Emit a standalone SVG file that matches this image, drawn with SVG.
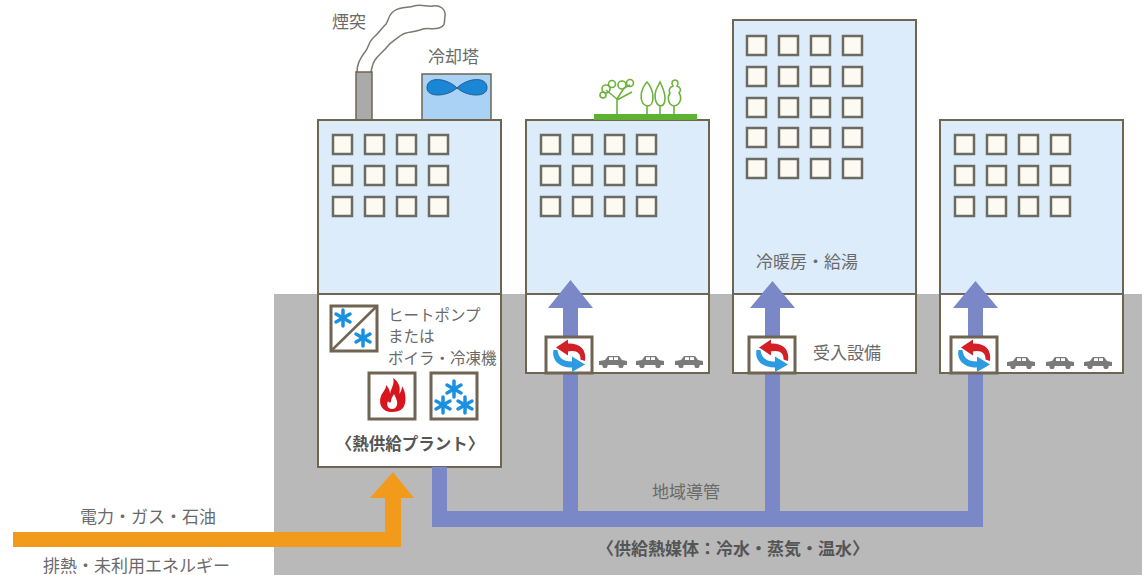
<svg xmlns="http://www.w3.org/2000/svg" xmlns:xlink="http://www.w3.org/1999/xlink" width="1142" height="575" viewBox="0 0 1142 575">
  <style>
    .lbl { font-family: "Noto Sans CJK JP", "Noto Sans", sans-serif; fill: #6a6a6a; font-size: 17px; }
    .lblb { font-family: "Noto Sans CJK JP", "Noto Sans", sans-serif; fill: #555; font-size: 17px; font-weight: bold; }
    .upper { fill: #dcecfb; stroke: #6f6552; stroke-width: 2; }
    .lower { fill: #ffffff; stroke: #6f6552; stroke-width: 2; }
    .win { fill: #fdfaf2; stroke: #6b6b63; stroke-width: 2.5; }
    .box { fill: #ffffff; stroke: #6f6552; stroke-width: 3; }
    .pipe { fill: #7b88c8; }
    .car { fill: #7a7a7a; }
    .ast { stroke: #1a90e0; stroke-width: 3.5; stroke-linecap: round; fill: none; }
  </style>
  <defs>
    <!-- window row of four -->
    <g id="winrow">
      <rect class="win" x="0" y="0" width="19" height="19"/>
      <rect class="win" x="32" y="0" width="19" height="19"/>
      <rect class="win" x="64" y="0" width="19" height="19"/>
      <rect class="win" x="96" y="0" width="19" height="19"/>
    </g>
    <!-- six-spoke asterisk -->
    <g id="ast">
      <line class="ast" x1="0" y1="-8" x2="0" y2="8"/>
      <line class="ast" x1="-7" y1="-4" x2="7" y2="4"/>
      <line class="ast" x1="-7" y1="4" x2="7" y2="-4"/>
    </g>
    <!-- small car -->
    <g id="car">
      <path class="car" d="M0,5 L6,4 L9,0 L20,0 L23,4 L28,5 L28,9 L0,9 Z"/>
      <rect x="10" y="1.2" width="4" height="2.8" fill="#fff"/>
      <rect x="15" y="1.2" width="4" height="2.8" fill="#fff"/>
      <circle class="car" cx="6" cy="9.5" r="2.6"/>
      <circle class="car" cx="22" cy="9.5" r="2.6"/>
    </g>
    <!-- heat exchanger unit -->
    <g id="exch">
      <rect class="box" x="0" y="0" width="46" height="36"/>
      <path fill="#d21f28" d="M21,6.5 C33,5.5 41,12 39,24 L34.5,22.5 C35,15.5 30,12.5 21,14.5 Z"/>
      <path fill="#d21f28" d="M10,10.5 L22,2.5 L22,18.5 Z"/>
      <path fill="#2c9be2" d="M7.5,13 C5.5,23 13,31 27,30.5 L27,24.5 C18,25 12.5,21.5 11.5,13 Z"/>
      <path fill="#2c9be2" d="M39,27.5 L26,19.5 L26,35 Z"/>
    </g>
  </defs>

  <rect x="0" y="0" width="1142" height="575" fill="#ffffff"/>

  <!-- underground -->
  <rect x="274" y="294" width="868" height="281" fill="#b9b9b9"/>

  <!-- heat source plant -->
  <g id="plant">
    <!-- smoke plume -->
    <path d="M357,72 C357,64 360,58 365,52 C369,47 368,43 373,38 C379,33 381,29 386,24 C389,20 388,15 394,11 C401,6 408,8 414,6 C421,4 427,7 433,6 C440,5 446,9 445,16 C444,22 446,26 439,28 C432,30 427,27 420,30 C412,33 406,31 400,36 C394,41 392,41 387,47 C382,53 378,55 375,60 C372,64 372,68 371,72" fill="#ffffff" stroke="#7a7a72" stroke-width="1.5"/>
    <rect x="356" y="72" width="16" height="48" fill="#aaaaaa" stroke="#6f6552" stroke-width="1.5"/>
    <rect x="422" y="74" width="69" height="46" fill="#a9d2f5" stroke="#6f6552" stroke-width="1.5"/>
    <path d="M457,88 C447,78 428,76 427,87 C426,98 447,97 457,88 C467,97 488,98 487,87 C486,76 467,78 457,88 Z" fill="#1a86d6" stroke="#2a5c8a" stroke-width="1"/>
    <rect class="upper" x="318" y="120" width="183" height="174"/>
    <rect class="lower" x="318" y="294" width="183" height="173"/>
    <use xlink:href="#winrow" x="333" y="135"/>
    <use xlink:href="#winrow" x="333" y="166"/>
    <use xlink:href="#winrow" x="333" y="197"/>
    <!-- heat pump / boiler / chiller -->
    <rect class="box" x="331" y="306" width="46" height="45"/>
    <line x1="331" y1="351" x2="377" y2="306" stroke="#6f6552" stroke-width="2.5"/>
    <use xlink:href="#ast" x="343" y="318"/>
    <use xlink:href="#ast" x="363" y="338"/>
    <text class="lbl" x="388" y="321" style="font-size:15.5px">ヒートポンプ</text>
    <text class="lbl" x="388" y="342" style="font-size:15.5px">または</text>
    <text class="lbl" x="388" y="364" style="font-size:15.5px">ボイラ・冷凍機</text>
    <rect class="box" x="369" y="373" width="46" height="46"/>
    <path fill="#d8151c" d="M392,412 C382,412 378,404 381,396 C383,391 386,390 386,385 C389,388 390,391 390,394 C391,388 395,384 393,378 C399,382 401,388 399,394 C401,392 402,389 402,386 C406,392 407,403 403,408 C400,411 396,412 392,412 Z"/>
    <path fill="#ffffff" d="M392,409 C388,409 386,405 388,401 C389,403 391,403 391,401 C391,398 393,396 394,394 C396,398 398,402 397,405 C396,408 394,409 392,409 Z"/>
    <rect class="box" x="431" y="373" width="46" height="46"/>
    <use xlink:href="#ast" x="454" y="389"/>
    <use xlink:href="#ast" x="443" y="405"/>
    <use xlink:href="#ast" x="465" y="405"/>
    <text class="lblb" x="410" y="450" text-anchor="middle" style="font-size:16.5px">〈熱供給プラント〉</text>
    <text class="lbl" x="332" y="28">煙突</text>
    <text class="lbl" x="428" y="63">冷却塔</text>
  </g>

  <!-- building with rooftop greenery -->
  <g id="bldg2">
    <rect class="upper" x="526" y="120" width="183" height="174"/>
    <rect class="lower" x="526" y="294" width="183" height="79"/>
    <use xlink:href="#winrow" x="541" y="135"/>
    <use xlink:href="#winrow" x="541" y="166"/>
    <use xlink:href="#winrow" x="541" y="197"/>
    <rect x="594" y="114" width="103" height="6" fill="#5db233"/>
    <g fill="none" stroke="#6cb23a" stroke-width="1.6">
      <path d="M617,114 L617,99 M617,99 L606,90 M617,99 L624,88 M617,100 L632,92 M624,88 L630,85"/>
      <circle cx="606" cy="89" r="4"/>
      <circle cx="612" cy="84" r="3.5"/>
      <circle cx="622" cy="85" r="4"/>
      <circle cx="630" cy="83" r="3.5"/>
      <circle cx="603" cy="95" r="3"/>
      <path d="M647,114 L647,106 M647,106 C640,104 640,94 643,88 C645,84 647,82 647,82 C649,84 653,90 653,97 C653,104 651,106 647,106 Z"/>
      <path d="M660,114 L660,106 M660,106 C655,104 654,96 656,90 C658,86 660,82 660,82 C662,86 665,92 665,98 C665,104 663,106 660,106 Z"/>
      <path d="M674,114 L674,106 M674,106 C668,105 667,97 670,93 C668,90 670,87 673,86 C671,84 672,80 675,80 C678,80 679,84 677,86 C680,87 682,90 679,93 C682,97 681,105 674,106 Z"/>
    </g>
  </g>

  <!-- tall building with receiving equipment -->
  <g id="bldg3">
    <rect class="upper" x="733" y="20" width="183" height="274"/>
    <rect class="lower" x="733" y="294" width="183" height="79"/>
    <use xlink:href="#winrow" x="747" y="36"/>
    <use xlink:href="#winrow" x="747" y="67"/>
    <use xlink:href="#winrow" x="747" y="98"/>
    <use xlink:href="#winrow" x="747" y="128"/>
    <use xlink:href="#winrow" x="747" y="159"/>
    <text class="lbl" x="756" y="268">冷暖房・給湯</text>
    <text class="lbl" x="813" y="359">受入設備</text>
  </g>

  <!-- right-hand building -->
  <g id="bldg4">
    <rect class="upper" x="940" y="120" width="183" height="174"/>
    <rect class="lower" x="940" y="294" width="183" height="79"/>
    <use xlink:href="#winrow" x="955" y="135"/>
    <use xlink:href="#winrow" x="955" y="166"/>
    <use xlink:href="#winrow" x="955" y="197"/>
  </g>

  <!-- district pipes and energy feed -->
  <g id="connectors">
    <path class="pipe" d="M432,467 L447,467 L447,511 L563,511 L563,308 L548,308 L570.5,280 L593,308 L578,308 L578,511 L765,511 L765,308 L750,308 L772.5,281 L795,308 L780,308 L780,511 L968,511 L968,308 L953,308 L975.5,281 L998,308 L983,308 L983,527 L432,527 Z"/>
    <path fill="#f19a1c" d="M13,532 L385,532 L385,498 L370,498 L393,472 L414,498 L401,498 L401,547 L13,547 Z"/>
  </g>

  <!-- receiving units and parking -->
  <g id="exchangers">
    <use xlink:href="#exch" x="546" y="337"/>
    <use xlink:href="#exch" x="749" y="337"/>
    <use xlink:href="#exch" x="951" y="337"/>
    <use xlink:href="#car" x="599" y="356"/>
    <use xlink:href="#car" x="636" y="356"/>
    <use xlink:href="#car" x="675" y="356"/>
    <use xlink:href="#car" x="1007" y="357"/>
    <use xlink:href="#car" x="1046" y="357"/>
    <use xlink:href="#car" x="1084" y="357"/>
  </g>

  <text class="lbl" x="80" y="523">電力・ガス・石油</text>
  <text class="lbl" x="43" y="572">排熱・未利用エネルギー</text>
  <text class="lbl" x="652" y="498">地域導管</text>
  <text class="lblb" x="597" y="555">〈供給熱媒体：冷水・蒸気・温水〉</text>
</svg>
